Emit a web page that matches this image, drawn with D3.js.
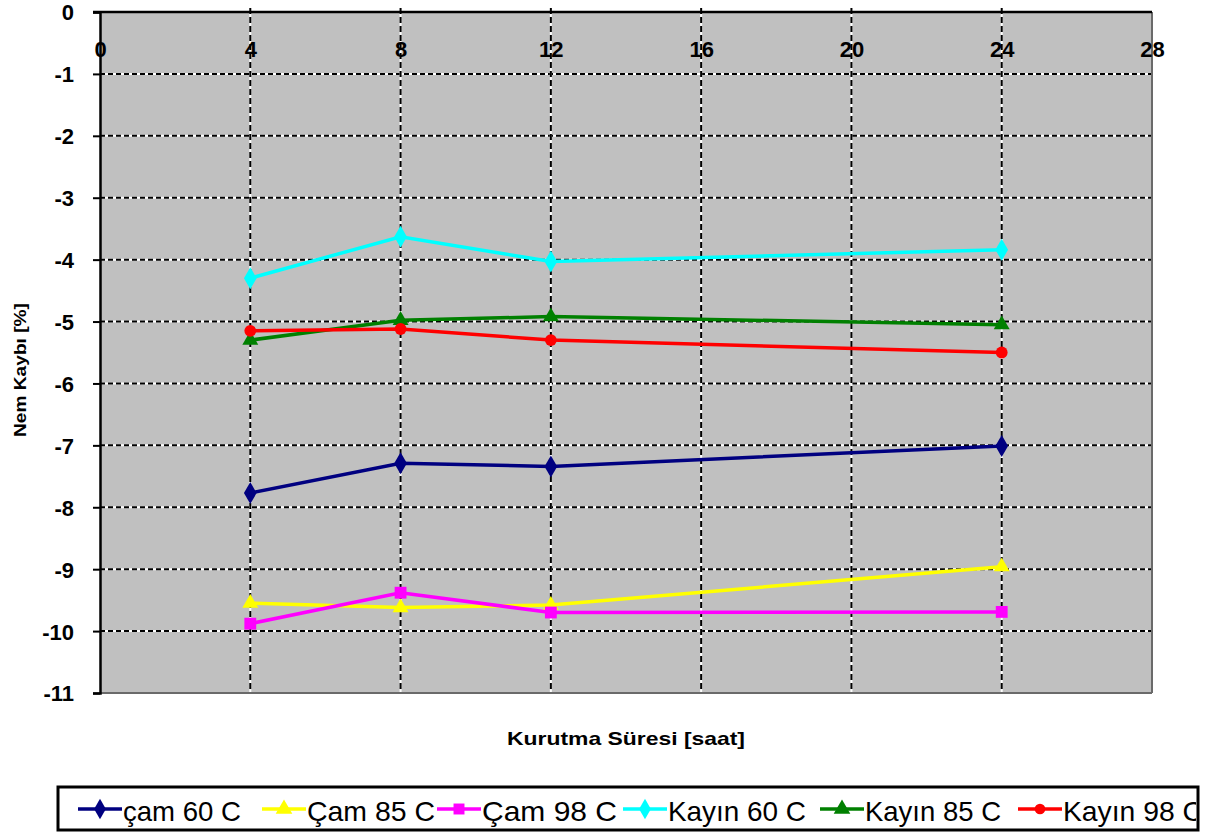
<!DOCTYPE html>
<html><head><meta charset="utf-8">
<script src="https://cdn.jsdelivr.net/npm/d3@7"></script>
<style>body{margin:0;background:#fff}svg{display:block}</style>
</head><body>
<svg id="c" width="1212" height="837"></svg>
<script>
const hours = [4, 8, 12, 24];
const seriesNames = ["çam 60 C", "Çam 85 C", "Çam 98 C", "Kayın 60 C", "Kayın 85 C", "Kayın 98 C"];
const cam60 = [-7.77, -7.29, -7.34, -7.01];
const cam85 = [-9.55, -9.62, -9.58, -8.96];
const cam98 = [-9.88, -9.38, -9.70, -9.69];
const kayin60 = [-4.30, -3.63, -4.03, -3.84];
const kayin85 = [-5.30, -4.98, -4.92, -5.05];
const kayin98 = [-5.15, -5.12, -5.30, -5.50];
const xTicks = [0, 4, 8, 12, 16, 20, 24, 28];
const yTicks = [0, -1, -2, -3, -4, -5, -6, -7, -8, -9, -10, -11];
const colors = ["#000080", "#ffff00", "#ff00ff", "#00ffff", "#008000", "#ff0000"];
const symbols = [d3.symbolDiamond, d3.symbolTriangle, d3.symbolSquare, d3.symbolDiamond, d3.symbolTriangle, d3.symbolCircle];
const allValues = [cam60, cam85, cam98, kayin60, kayin85, kayin98];

const FONT = "Liberation Sans, Arial, sans-serif";
const svg = d3.select("#c");
const L = 100, R = 1152, T = 12, B = 693;
const x = d3.scaleLinear().domain([0, 28]).range([L, R]);
const y = d3.scaleLinear().domain([0, -11]).range([T, B]);

svg.append("rect").attr("x", L).attr("y", T).attr("width", R - L).attr("height", B - T).attr("fill", "#c0c0c0");

// grid
const g = svg.append("g");
yTicks.filter(v => v !== 0 && v !== -11).forEach(v => {
  g.append("line").attr("x1", L).attr("x2", R).attr("y1", y(v)).attr("y2", y(v)).attr("stroke", "#fff").attr("stroke-width", 2);
  g.append("line").attr("x1", L).attr("x2", R).attr("y1", y(v)).attr("y2", y(v)).attr("stroke", "#000").attr("stroke-width", 2).attr("stroke-dasharray", "5,3");
});
xTicks.filter(v => v !== 0 && v !== 28).forEach(v => {
  g.append("line").attr("x1", x(v)).attr("x2", x(v)).attr("y1", T - 4).attr("y2", B).attr("stroke", "#fff").attr("stroke-width", 2);
  g.append("line").attr("x1", x(v)).attr("x2", x(v)).attr("y1", T - 4).attr("y2", B).attr("stroke", "#000").attr("stroke-width", 2).attr("stroke-dasharray", "6,3");
});

// borders
svg.append("line").attr("x1", R).attr("x2", R).attr("y1", T).attr("y2", B).attr("stroke", "#6a6a6a").attr("stroke-width", 2);
svg.append("line").attr("x1", L).attr("x2", R).attr("y1", B).attr("y2", B).attr("stroke", "#6a6a6a").attr("stroke-width", 2);

// y axis
const yAxis = d3.axisLeft(y).tickValues(yTicks).tickSize(7).tickPadding(19).tickFormat(d3.format("d"));
const ya = svg.append("g").attr("transform", `translate(${L},0)`).call(yAxis);
ya.select(".domain").attr("stroke", "#000").attr("stroke-width", 2.5);
ya.selectAll(".tick line").attr("stroke", "#000").attr("stroke-width", 2);
ya.selectAll("text").attr("font-family", FONT).attr("font-weight", "bold").attr("font-size", 22).attr("fill", "#000")
  .attr("dy", "0.36em").attr("transform", "scale(1,0.95)").attr("y", 0)
  .text(d => d === 0 ? "0" : "-" + Math.abs(d));
ya.selectAll(".tick text").attr("transform", null).style("font-size", "22px");

// x axis at top
const xAxis = d3.axisBottom(x).tickValues(xTicks).tickSize(0).tickPadding(45).tickFormat(d3.format("d"));
const xa = svg.append("g").attr("transform", `translate(0,${T})`).call(xAxis);
xa.select(".domain").attr("stroke", "#000").attr("stroke-width", 2.5).attr("d", `M${L - 7},0H${R}`);
xa.selectAll("text").attr("font-family", FONT).attr("font-weight", "bold").style("font-size", "22px").attr("fill", "#000").attr("dy", "0");

// series
const line = d3.line().x((d, i) => x(hours[i])).y(d => y(d));
allValues.forEach((vals, si) => {
  svg.append("path").datum(vals).attr("d", line).attr("fill", "none").attr("stroke", colors[si]).attr("stroke-width", 3.5);
  const sz = si === 5 ? 110 : (symbols[si] === d3.symbolTriangle ? 110 : 140);
  svg.append("g").selectAll("path").data(vals).join("path")
    .attr("transform", (d, i) => `translate(${x(hours[i])},${y(d)})`)
    .attr("d", d3.symbol().type(symbols[si]).size(sz)).attr("fill", colors[si]);
});

// axis titles
svg.append("text").attr("transform", "translate(26,370) rotate(-90)").attr("text-anchor", "middle")
  .attr("font-family", FONT).attr("font-weight", "bold").attr("font-size", 17)
  .attr("textLength", 134).attr("lengthAdjust", "spacingAndGlyphs").text("Nem Kaybı [%]");
svg.append("text").attr("x", 626).attr("y", 745).attr("text-anchor", "middle")
  .attr("font-family", FONT).attr("font-weight", "bold").attr("font-size", 19)
  .attr("textLength", 238).attr("lengthAdjust", "spacingAndGlyphs").text("Kurutma Süresi [saat]");

// legend
const lg = svg.append("g");
lg.append("rect").attr("x", 58).attr("y", 787).attr("width", 1140).attr("height", 43).attr("fill", "#fff").attr("stroke", "#000").attr("stroke-width", 3);
svg.append("clipPath").attr("id", "lc").append("rect").attr("x", 60).attr("y", 788).attr("width", 1136).attr("height", 41);
const items = lg.append("g").attr("clip-path", "url(#lc)");
const itemX = [78, 262, 437, 623, 820, 1018];
const itemW = [118, 128, 135, 138, 136, 140];
seriesNames.forEach((name, si) => {
  const cx = itemX[si], cy = 809;
  items.append("line").attr("x1", cx).attr("x2", cx + 44).attr("y1", cy).attr("y2", cy).attr("stroke", colors[si]).attr("stroke-width", 3.5);
  items.append("path").attr("transform", `translate(${cx + 22},${cy})`).attr("d", d3.symbol().type(symbols[si]).size(si === 5 ? 90 : 120)).attr("fill", colors[si]);
  items.append("text").attr("x", cx + 45).attr("y", cy + 12).attr("font-family", FONT).attr("font-size", 28).attr("fill", "#000")
    .attr("textLength", itemW[si]).attr("lengthAdjust", "spacingAndGlyphs").text(name);
});
</script>
</body></html>
